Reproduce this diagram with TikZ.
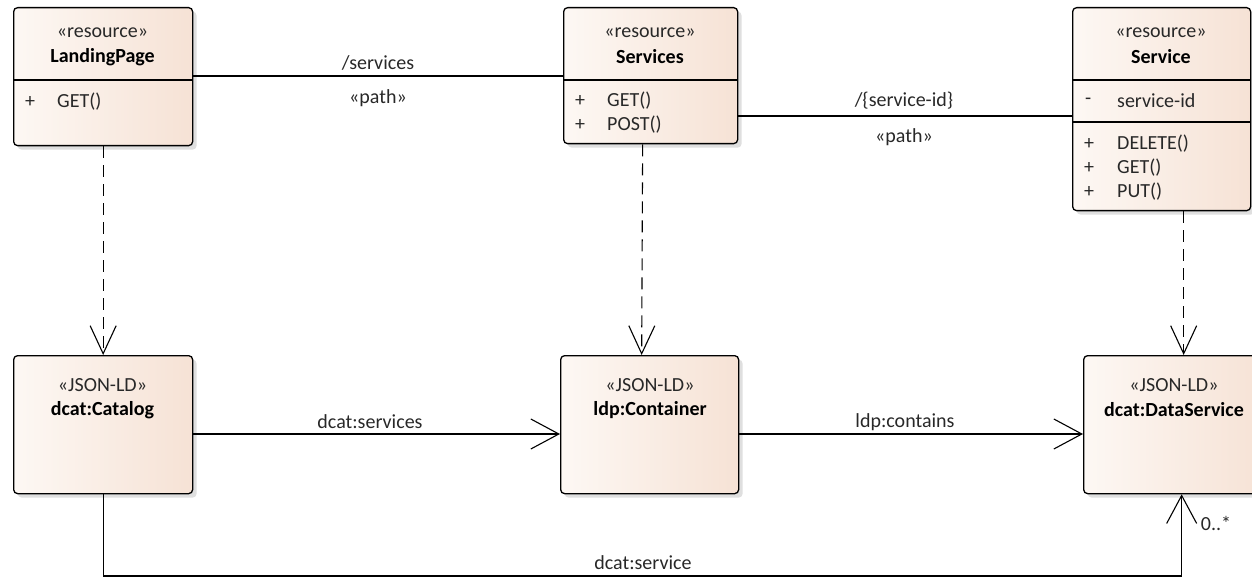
\documentclass[tikz,border=0pt]{standalone}
\usepackage{fontspec}
\setmainfont{Carlito}
\usetikzlibrary{positioning,shadows,arrows.meta}

\definecolor{peach}{RGB}{246,226,213}
\definecolor{peachlight}{RGB}{253,248,244}
\definecolor{umltext}{RGB}{40,40,40}

\tikzset{
  umlbox/.style={draw=black, line width=1.3pt, rounded corners=4pt,
    anchor=north west, inner sep=0pt,
    left color=peachlight, right color=peach,
    drop shadow={shadow xshift=4pt, shadow yshift=-4pt, fill=black!18, opacity=0.7}},
  stereo/.style={text=umltext, inner sep=1pt},
  umlname/.style={text=black, font=\fontsize{20}{24}\selectfont\bfseries, inner sep=1pt},
  member/.style={text=umltext, anchor=west, inner sep=1pt},
  split/.style={line width=1.3pt},
  assoc/.style={line width=1.1pt},
  navarrow/.style={line width=1.1pt, -{Straight Barb[length=28pt, width=30pt]}},
  realize/.style={line width=1.1pt, dash pattern=on 12pt off 7pt,
    -{Straight Barb[length=28pt, width=26pt]}},
  rolelabel/.style={text=umltext, inner sep=1pt}
}

\begin{document}
\begin{tikzpicture}[x=1pt, y=-1pt, font=\fontsize{20}{24}\selectfont]
  \clip (0,0) rectangle (1252,577);

  % resource classes
  \node [umlbox, minimum width=179pt, minimum height=138pt] (landing) at (13,7) {};
  \node [umlbox, minimum width=174pt, minimum height=136pt] (services) at (563,7) {};
  \node [umlbox, minimum width=178pt, minimum height=203pt] (service) at (1072,7) {};

  % JSON-LD representations
  \node [umlbox, minimum width=179pt, minimum height=138pt] (catalog) at (13,355) {};
  \node [umlbox, minimum width=178pt, minimum height=138pt] (container) at (560,355) {};
  \node [umlbox, minimum width=182pt, minimum height=138pt] (dataservice) at (1083,355) {};

  % LandingPage
  \node [stereo] (landingst) at (102.5,33) {«resource»};
  \node [umlname] (landingnm) at (102.5,57) {LandingPage};
  \draw [split] (landing.west |- 0,80) -- (landing.east |- 0,80);
  \node [member] (landingv1) at (24,102) {+};
  \node [member] (landingop1) at (56,102) {GET()};

  % Services
  \node [stereo] (servicesst) at (650,33) {«resource»};
  \node [umlname] (servicesnm) at (650,57) {Services};
  \draw [split] (services.west |- 0,80) -- (services.east |- 0,80);
  \node [member] (servicesv1) at (574,101) {+};
  \node [member] (servicesop1) at (606,101) {GET()};
  \node [member] (servicesv2) at (574,125) {+};
  \node [member] (servicesop2) at (606,125) {POST()};

  % Service
  \node [stereo] (servicest) at (1161,33) {«resource»};
  \node [umlname] (servicenm) at (1161,57) {Service};
  \draw [split] (service.west |- 0,80) -- (service.east |- 0,80);
  \node [member] (servicev0) at (1084,101) {-};
  \node [member] (serviceat1) at (1116,101) {service-id};
  \draw [split] (service.west |- 0,122) -- (service.east |- 0,122);
  \node [member] (servicev1) at (1083,144) {+};
  \node [member] (serviceop1) at (1116,144) {DELETE()};
  \node [member] (servicev2) at (1083,168) {+};
  \node [member] (serviceop2) at (1116,168) {GET()};
  \node [member] (servicev3) at (1083,192) {+};
  \node [member] (serviceop3) at (1116,192) {PUT()};

  % representations
  \node [stereo] (catalogst) at (102.5,385) {«JSON-LD»};
  \node [umlname] (catalognm) at (102.5,410) {dcat:Catalog};
  \node [stereo] (containerst) at (650,385) {«JSON-LD»};
  \node [umlname] (containernm) at (650,410) {ldp:Container};
  \node [stereo] (dataservicest) at (1174,385) {«JSON-LD»};
  \node [umlname] (dataservicenm) at (1174,410) {dcat:DataService};

  % paths
  \draw [assoc] (landing.east |- 0,76) -- (services.west |- 0,76);
  \node [rolelabel] (pathlbl1) at (378,63) {/services};
  \node [rolelabel] (pathst1) at (378,98) {«path»};
  \draw [assoc] (services.east |- 0,116) -- (service.west |- 0,116);
  \node [rolelabel] (pathlbl2) at (904,101) {/\{service-id\}};
  \node [rolelabel] (pathst2) at (904,137) {«path»};

  % resource -> representation
  \draw [realize] (landing.south) -- (catalog.north);
  \draw [realize] ([xshift=-8pt]services.south) -- ([xshift=-8pt]container.north);
  \draw [realize] ([xshift=22pt]service.south) -- ([xshift=9pt]dataservice.north);

  % links between representations
  \coordinate (linkrow) at (0,434);
  \draw [navarrow] (catalog.east |- linkrow) -- (container.west |- linkrow);
  \node [rolelabel] (linklbl1) at (370,422) {dcat:services};
  \draw [navarrow] (container.east |- linkrow) -- (dataservice.west |- linkrow);
  \node [rolelabel] (linklbl2) at (905,422) {ldp:contains};
  \coordinate (bottomrun) at (0,576);
  \draw [navarrow] (catalog.south) -- (catalog.south |- bottomrun)
    -| ([xshift=7pt]dataservice.south);
  \node [rolelabel] (linklbl3) at (643,563) {dcat:service};
  \node [rolelabel] (multlbl) at (1216,523) {0..*};
\end{tikzpicture}
\end{document}
